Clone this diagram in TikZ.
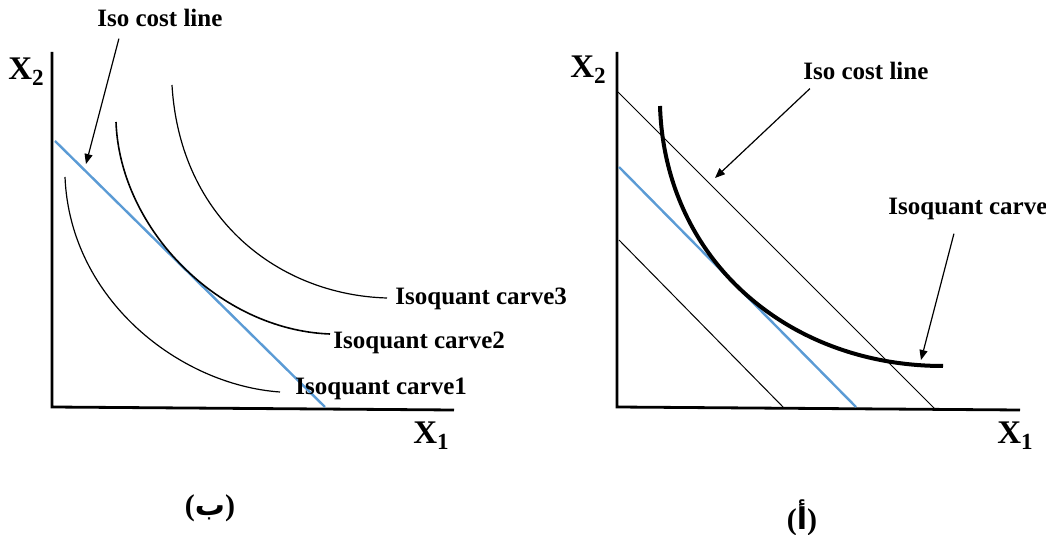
\documentclass[tikz,border=0pt]{standalone}
\usepackage{fontspec}
\setmainfont{Liberation Serif}
\newfontfamily\arabicfont[Script=Arabic]{DejaVu Sans}
\TeXXeTstate=1
\usetikzlibrary{arrows.meta}
\definecolor{ink}{HTML}{000000}
\definecolor{costblue}{HTML}{5B9BD5}

\begin{document}
\begin{tikzpicture}[x=0.5pt,y=-0.5pt,font=\bfseries,text=ink,
  >={Triangle[length=5pt,width=4pt]},
  axes/.style={ink,line width=1.4pt,line join=miter},
  isoq/.style={ink,line width=0.6pt},
  cost/.style={costblue,line width=1.2pt},
  budget/.style={ink,line width=0.5pt},
  lbl/.style={font=\fontsize{12.5}{15}\selectfont\bfseries,inner sep=0pt,anchor=base west},
  axlbl/.style={font=\fontsize{16.5}{20}\selectfont\bfseries,inner sep=0pt,anchor=base west},
  ptr/.style={->,ink,line width=0.6pt}]
  \useasboundingbox (0,0) rectangle (1046,535);

  % panel (b), left
  \draw[axes] (52,52) -- (52,407) -- (454,410);
  \node[axlbl] (x2L) at (8,80) {X\textsubscript{2}};
  \node[axlbl] (x1L) at (413,444) {X\textsubscript{1}};
  \draw[cost] (55,141) -- (325,407);
  \draw[isoq] (65,177) .. controls (70,300) and (180,385) .. (280,392);
  \draw[isoq,line width=0.8pt] (116,122) .. controls (120,230) and (220,330) .. (330,334);
  \draw[isoq] (172,85) .. controls (180,220) and (280,295) .. (387,298);
  \node[lbl] (q1) at (295,394) {Isoquant carve1};
  \node[lbl] (q2) at (333,349) {Isoquant carve2};
  \node[lbl] (q3) at (395,305) {Isoquant carve3};
  \node[lbl] (isoL) at (97,27) {Iso cost line};
  \coordinate (tipL) at (86,164);
  \draw[ptr] ([xshift=-20.5pt,yshift=-5.5pt]isoL.south) -- (tipL);
  \node[font=\fontsize{15}{18}\selectfont\bfseries] (capL) at (210,508)
    {({\arabicfont\beginR ب\endR})};

  % panel (a), right
  \draw[axes] (617,52) -- (617,407) -- (1020,410);
  \node[axlbl] (x2R) at (570,78) {X\textsubscript{2}};
  \node[axlbl] (x1R) at (997,444) {X\textsubscript{1}};
  \draw[budget] (618,92) -- (935,409);
  \draw[budget] (619,240) -- (784,408);
  \draw[cost] (619,167) -- (856,407);
  \draw[ink,line width=2pt] (660,106) .. controls (665,262) and (790,366) .. (943,366);
  \node[lbl] (isoR) at (803,80) {Iso cost line};
  \node[lbl] (isoqR) at (888,215) {Isoquant carve};
  \coordinate (tipR1) at (715,178);
  \coordinate (tipR2) at (921,360);
  \draw[ptr] ([xshift=-28pt,yshift=-4pt]isoR.south) -- (tipR1);
  \draw[ptr] ([xshift=-7pt,yshift=-6.5pt]isoqR.south) -- (tipR2);
  \node[font=\fontsize{15}{18}\selectfont\bfseries] (capR) at (802,518)
    {({\arabicfont\beginR أ\endR})};
\end{tikzpicture}
\end{document}
